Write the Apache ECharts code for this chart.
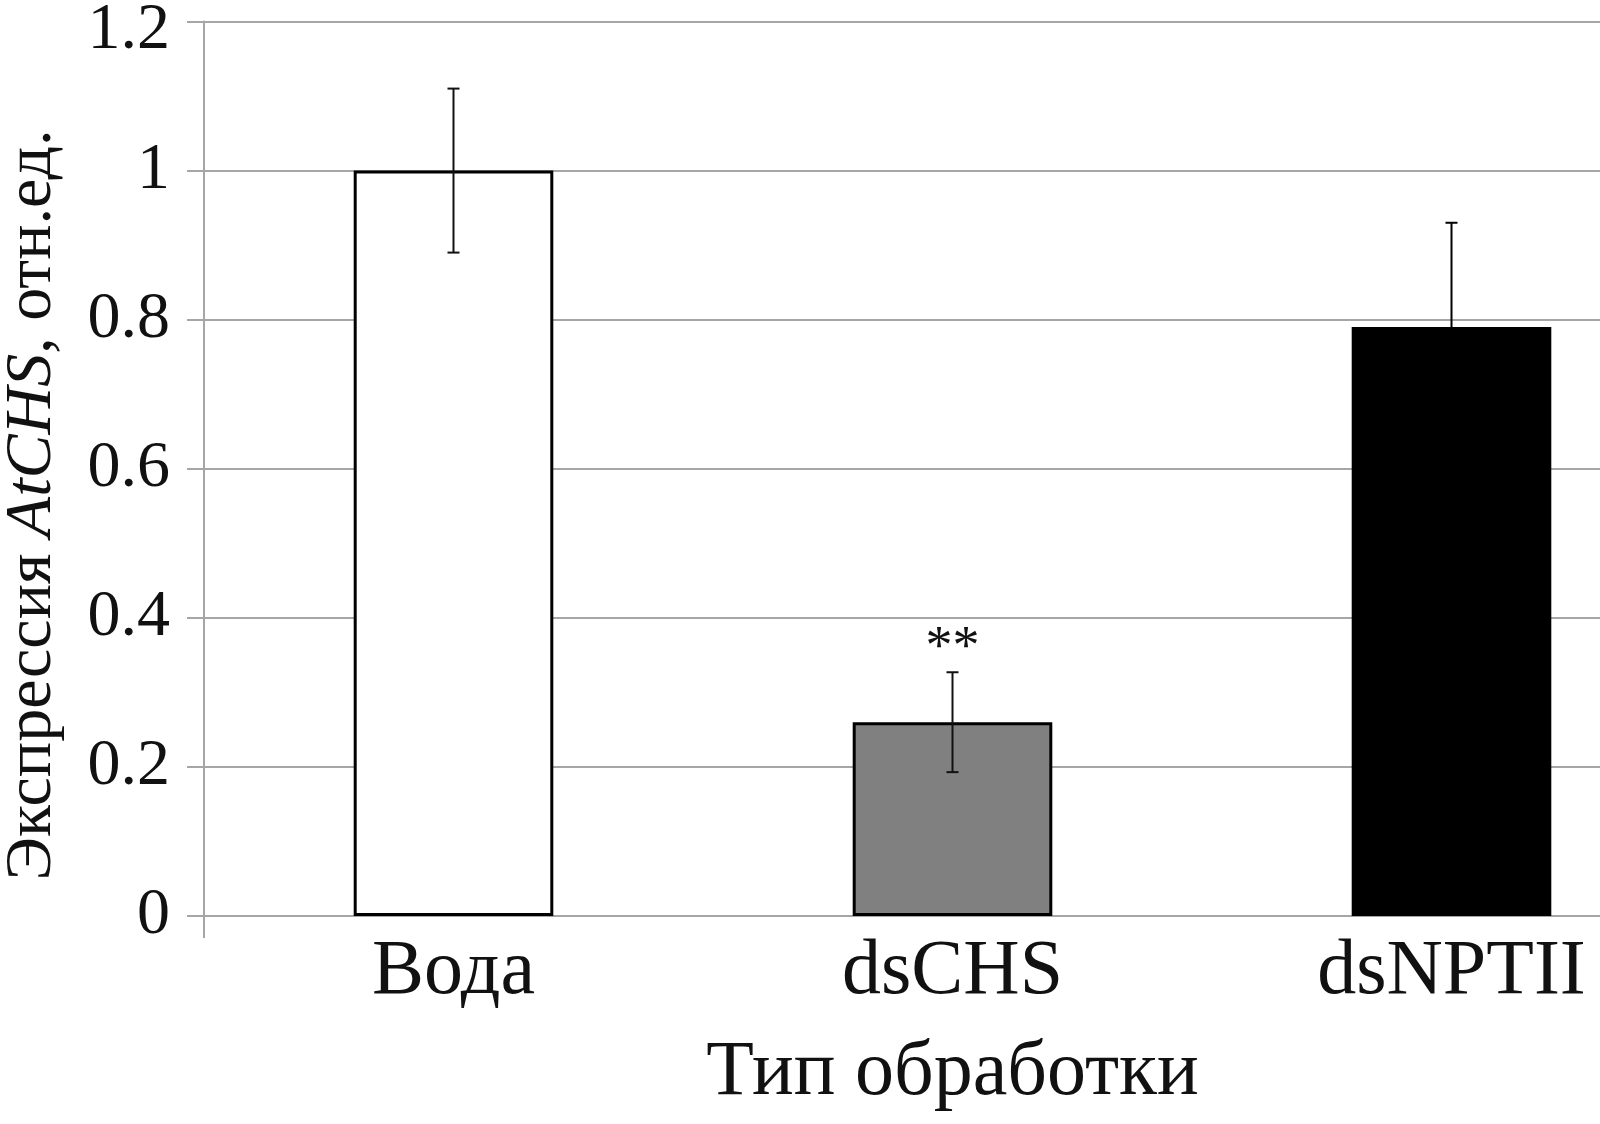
<!DOCTYPE html>
<html>
<head>
<meta charset="utf-8">
<script src="https://cdn.jsdelivr.net/npm/echarts@6/dist/echarts.min.js"></script>
<style>
  html, body { margin: 0; padding: 0; background: #fff; }
  #chart { width: 1600px; height: 1124px; }
</style>
</head>
<body>
<div id="chart"></div>
<script>
// данные
var categories = ['Вода', 'dsCHS', 'dsNPTII'];
var values     = [1.0, 0.26, 0.79];
var errors     = [0.11, 0.067, 0.14];
var marks      = ['', '**', ''];
var barColors  = ['#ffffff', '#808080', '#000000'];

var yMin = 0, yMax = 1.2, yStep = 0.2;

var FONT = "'Liberation Serif', 'Times New Roman', serif";
var GRID_COLOR = '#a6a6a6';

var chart = echarts.init(document.getElementById('chart'));

function errorBarItem(params, api) {
  var idx = api.value(0);
  var v = api.value(1);
  var e = api.value(2);
  var top = api.coord([idx, v + e]);
  var bot = api.coord([idx, v - e]);
  var half = 6;
  var col = barColors[params.dataIndex] === '#000000' ? '#000' : '#111';
  var st = { stroke: col, lineWidth: 2 };
  var children = [
    { type: 'line', shape: { x1: top[0], y1: top[1], x2: bot[0], y2: bot[1] }, style: st },
    { type: 'line', shape: { x1: top[0] - half, y1: top[1], x2: top[0] + half, y2: top[1] }, style: st },
    { type: 'line', shape: { x1: bot[0] - half, y1: bot[1], x2: bot[0] + half, y2: bot[1] }, style: st }
  ];
  var mark = marks[params.dataIndex];
  if (mark) {
    children.push({
      type: 'text',
      style: {
        text: mark, x: top[0], y: top[1] + 4,
        align: 'center', verticalAlign: 'bottom',
        font: '54px ' + FONT, fill: '#111'
      }
    });
  }
  return { type: 'group', children: children };
}

var option = {
  backgroundColor: '#fff',
  animation: false,
  grid: {
    left: 204, top: 21.5, width: 1497, height: 894.5,
    outerBoundsMode: 'none'
  },
  xAxis: {
    type: 'category',
    data: categories,
    boundaryGap: true,
    axisLine: { lineStyle: { color: GRID_COLOR, width: 2 } },
    axisTick: {
      show: true, length: 22,
      interval: function (i) { return i === 0; },
      lineStyle: { color: GRID_COLOR, width: 2 }
    },
    axisLabel: { margin: 18, fontFamily: FONT, fontSize: 78, color: '#111' },
    name: 'Тип обработки',
    nameLocation: 'middle',
    nameGap: 119,
    nameTextStyle: { fontFamily: FONT, fontSize: 78, color: '#111' }
  },
  yAxis: {
    type: 'value',
    min: yMin, max: yMax, interval: yStep,
    axisLine: { show: true, lineStyle: { color: GRID_COLOR, width: 2 } },
    axisTick: { show: true, length: 17, lineStyle: { color: GRID_COLOR, width: 2 } },
    splitLine: { show: true, lineStyle: { color: GRID_COLOR, width: 2 } },
    axisLabel: {
      margin: 34, fontFamily: FONT, fontSize: 66, color: '#111',
      formatter: function (v) {
        return v >= yMax ? '{top|' + v + '}' : String(v);
      },
      rich: {
        top: { fontFamily: FONT, fontSize: 66, color: '#111', padding: [18, 0, 0, 0] }
      }
    }
  },
  graphic: [{
    type: 'text',
    x: 33, y: 505,
    rotation: Math.PI / 2,
    style: {
      text: 'Экспрессия {i|AtCHS}, отн.ед.',
      align: 'center', verticalAlign: 'middle',
      font: '66px ' + FONT, fill: '#111',
      rich: { i: { fontStyle: 'italic', fontFamily: FONT, fontSize: 66, fill: '#111' } }
    }
  }],
  series: [
    {
      type: 'bar',
      barWidth: '40%',
      data: values.map(function (v, i) {
        return {
          value: v,
          itemStyle: {
            color: barColors[i],
            borderColor: '#000',
            borderWidth: 3
          }
        };
      }),
      z: 2
    },
    {
      type: 'custom',
      renderItem: errorBarItem,
      data: values.map(function (v, i) { return [i, v, errors[i]]; }),
      encode: { x: 0, y: 1 },
      z: 3
    }
  ]
};

chart.setOption(option);
</script>
</body>
</html>
